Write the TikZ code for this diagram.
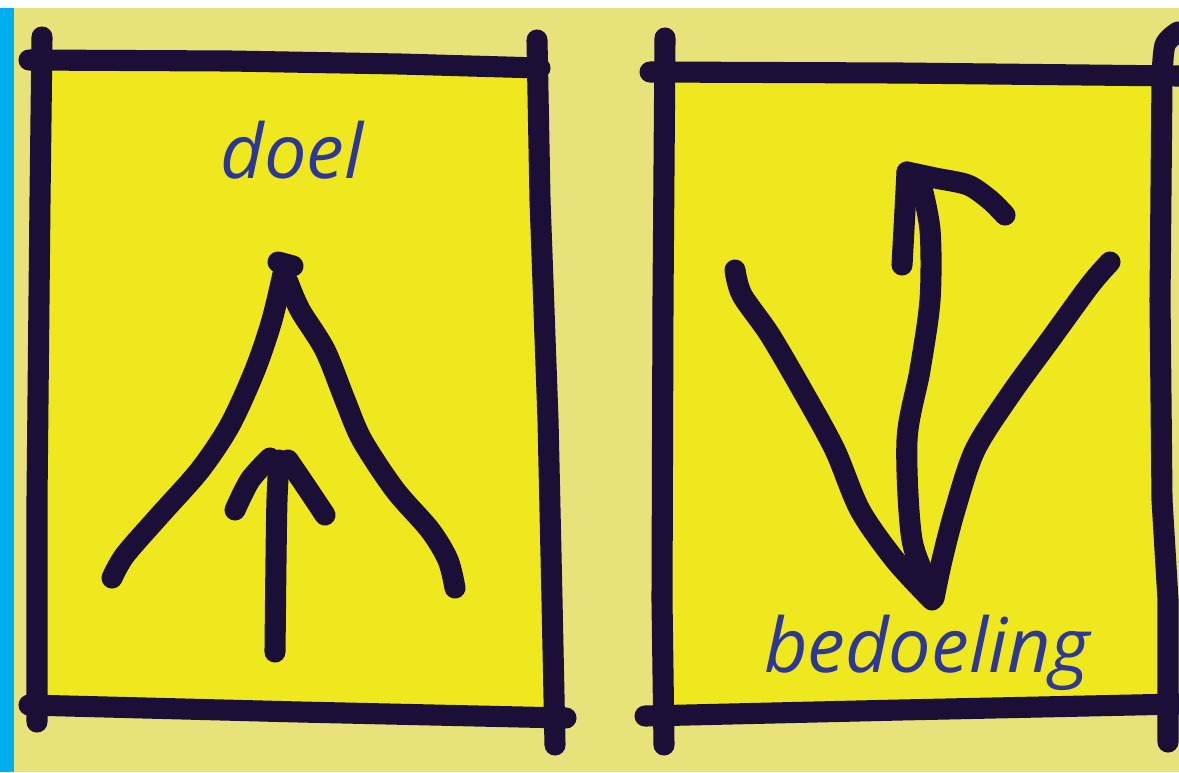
\documentclass[tikz,border=0pt]{standalone}
\usepackage{fontspec}
\setmainfont{Open Sans}
\definecolor{pagebg}{RGB}{232,226,122}
\definecolor{paper}{RGB}{240,232,30}
\definecolor{ink}{RGB}{27,14,55}
\definecolor{inkblue}{RGB}{45,55,150}
\definecolor{stripblue}{RGB}{0,174,239}
\begin{document}
\begin{tikzpicture}[x=0.02cm,y=-0.02cm]
		\tikzstyle{every node}=[font=\fontsize{43pt}{50pt}\selectfont\itshape, text=inkblue]
		\tikzstyle{pen}=[draw=ink, line width=12pt, line cap=round, line join=round]
		
		\useasboundingbox (0,0) rectangle (1179,772);
		\fill[white] (0,0) rectangle (1179,772);
		\fill[pagebg] (0,8) rectangle (1179,772);
		
		% left sheet
		\fill[paper] (40,62) -- (537,68) -- (550,400) -- (555,712) -- (37,706) -- cycle;
		\draw[pen] (42,37) -- (40,200) -- (37,500) -- (37,722);
		\draw[pen] (29,60) -- (230,61) -- (400,64) -- (540,68);
		\draw[pen] (537,40) -- (540,200) -- (548,420) -- (552,600) -- (555,745);
		\draw[pen] (29,705) -- (300,712) -- (566,718);
		
		\draw[pen] plot[smooth] coordinates {(112,578) (125,555) (160,515) (200,470) (230,425) (255,370) (272,320) (285,265)};
		\draw[pen] (278,262) -- (293,266);
		\draw[pen] plot[smooth] coordinates {(288,282) (300,310) (325,350) (345,400) (362,440) (395,490) (430,530) (448,560) (455,588)};
		
		\draw[pen] plot[smooth] coordinates {(275,652) (276,560) (277,500) (279,460)};
		\draw[pen] plot[smooth] coordinates {(235,510) (250,480) (270,458)};
		\draw[pen] plot[smooth] coordinates {(288,460) (305,485) (325,515)};
		
		\node[anchor=base] (doel) at (292,178) {doel};
		
		% right sheet
		\fill[paper] (665,72) -- (1162,77) -- (1165,708) -- (662,712) -- cycle;
		\draw[pen] (665,38) -- (663,300) -- (662,600) -- (664,745);
		\draw[pen] (650,72) -- (900,73) -- (1179,76);
		\draw[pen] plot[smooth] coordinates {(1162,78) (1165,45) (1178,32)};
		\draw[pen] (1162,78) -- (1160,300) -- (1162,500) -- (1168,600) -- (1168,742);
		\draw[pen] (645,716) -- (900,710) -- (1179,704);
		
		\draw[pen] plot[smooth] coordinates {(735,270) (742,295) (770,335) (805,395) (835,450) (860,510) (895,560) (932,600)};
		\draw[pen] plot[smooth] coordinates {(1110,262) (1090,285) (1050,340) (1010,395) (975,450) (955,510) (942,560) (934,598)};
		\draw[pen] plot[smooth] coordinates {(932,590) (912,540) (907,440) (920,370) (930,300) (930,230) (920,180)};
		\draw[pen] plot[smooth] coordinates {(902,265) (905,210) (907,172)};
		\draw[pen] plot[smooth] coordinates {(907,172) (935,178) (968,185) (990,200) (1005,215)};
		
		\node[anchor=base] (bedoeling) at (927,672) {bedoeling};
		
		\fill[stripblue] (0,8) rectangle (14,772);
		
	\end{tikzpicture}
\end{document}
